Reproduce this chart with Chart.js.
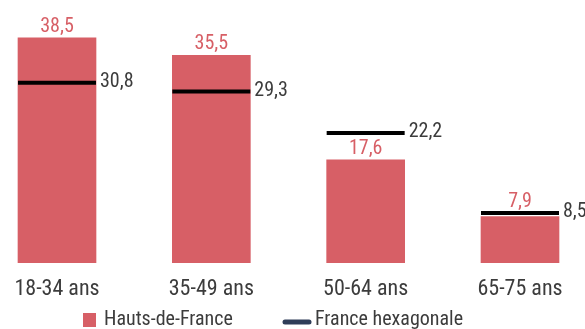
<!DOCTYPE html>
<html lang="fr">
<head>
<meta charset="utf-8">
<script src="https://cdn.jsdelivr.net/npm/chart.js@4.4.1/dist/chart.umd.min.js"></script>
<style>
  html, body { margin: 0; padding: 0; background: #fff; }
  #wrap { width: 585px; height: 329px; }
</style>
</head>
<body>
<div id="wrap"><canvas id="chart"></canvas></div>
<script>
const categories = ['18-34 ans', '35-49 ans', '50-64 ans', '65-75 ans'];
const hautsDeFrance = [38.5, 35.5, 17.6, 7.9];
const franceHexagonale = [30.8, 29.3, 22.2, 8.5];
const seriesNames = ['Hauts-de-France', 'France hexagonale'];

const RED = '#d75f66';
const GREY = '#3c3c3c';
const NAVY = '#2e3d58';
const FONT = "'Liberation Sans Narrow', 'Arial Narrow', 'Roboto Condensed', 'Roboto', sans-serif";
const BAR_W = 78;

const fmt = v => v.toFixed(1).replace('.', ',');

// valeurs : en rouge au-dessus des barres, en gris à droite des traits
const valueLabels = {
  id: 'valueLabels',
  afterDatasetsDraw(chart) {
    const ctx = chart.ctx;
    const marks = chart.getDatasetMeta(1).data;
    ctx.save();
    ctx.font = '20px ' + FONT;
    chart.getDatasetMeta(0).data.forEach((bar, i) => {
      let y = bar.y - 6;
      // si le trait passe juste au-dessus de la barre, on remonte l'étiquette
      const ly = marks[i].y;
      if (ly < bar.y && ly > y - 18) y = ly - 6;
      ctx.fillStyle = RED;
      ctx.textAlign = 'center';
      ctx.textBaseline = 'alphabetic';
      ctx.fillText(fmt(hautsDeFrance[i]), bar.x, y);
    });
    marks.forEach((pt, i) => {
      ctx.fillStyle = GREY;
      ctx.textAlign = 'left';
      ctx.textBaseline = 'middle';
      ctx.fillText(fmt(franceHexagonale[i]), pt.x + BAR_W / 2 + 4, pt.y - 1);
    });
    ctx.restore();
  }
};

// légende en bas : carré rouge + trait bleu nuit
const bottomLegend = {
  id: 'bottomLegend',
  afterDraw(chart) {
    const ctx = chart.ctx;
    const y = 320;
    ctx.save();
    ctx.font = '20px ' + FONT;
    ctx.textBaseline = 'middle';
    ctx.textAlign = 'left';

    ctx.fillStyle = RED;
    ctx.fillRect(83, y - 7, 13, 14);
    ctx.fillStyle = GREY;
    ctx.fillText(seriesNames[0], 104, y);

    ctx.strokeStyle = NAVY;
    ctx.lineWidth = 5;
    ctx.lineCap = 'round';
    ctx.beginPath();
    ctx.moveTo(285, y + 2);
    ctx.lineTo(309, y + 2);
    ctx.stroke();
    ctx.fillStyle = GREY;
    ctx.fillText(seriesNames[1], 315, y);
    ctx.restore();
  }
};

new Chart(document.getElementById('chart'), {
  data: {
    labels: categories,
    datasets: [
      {
        type: 'bar',
        label: seriesNames[0],
        data: hautsDeFrance,
        backgroundColor: RED,
        barThickness: BAR_W,
        clip: false,
        order: 2
      },
      {
        type: 'line',
        label: seriesNames[1],
        data: franceHexagonale,
        showLine: false,
        pointStyle: 'line',
        pointRadius: BAR_W / 2,
        pointHoverRadius: BAR_W / 2,
        pointBorderWidth: 4,
        pointBorderColor: '#000',
        pointBackgroundColor: '#000',
        clip: false,
        order: 1
      }
    ]
  },
  options: {
    responsive: true,
    maintainAspectRatio: false,
    animation: false,
    events: [],
    layout: { autoPadding: false, padding: { left: 57, right: 65, top: 0, bottom: 12 } },
    plugins: {
      legend: { display: false },
      tooltip: { enabled: false }
    },
    scales: {
      x: {
        type: 'category',
        offset: false,
        grid: { display: false, drawTicks: false },
        border: { display: false },
        ticks: {
          color: GREY,
          padding: 14,
          maxRotation: 0,
          font: { family: FONT, size: 22 }
        }
      },
      y: {
        display: false,
        min: 0,
        max: 45
      }
    }
  },
  plugins: [valueLabels, bottomLegend]
});
</script>
</body>
</html>
